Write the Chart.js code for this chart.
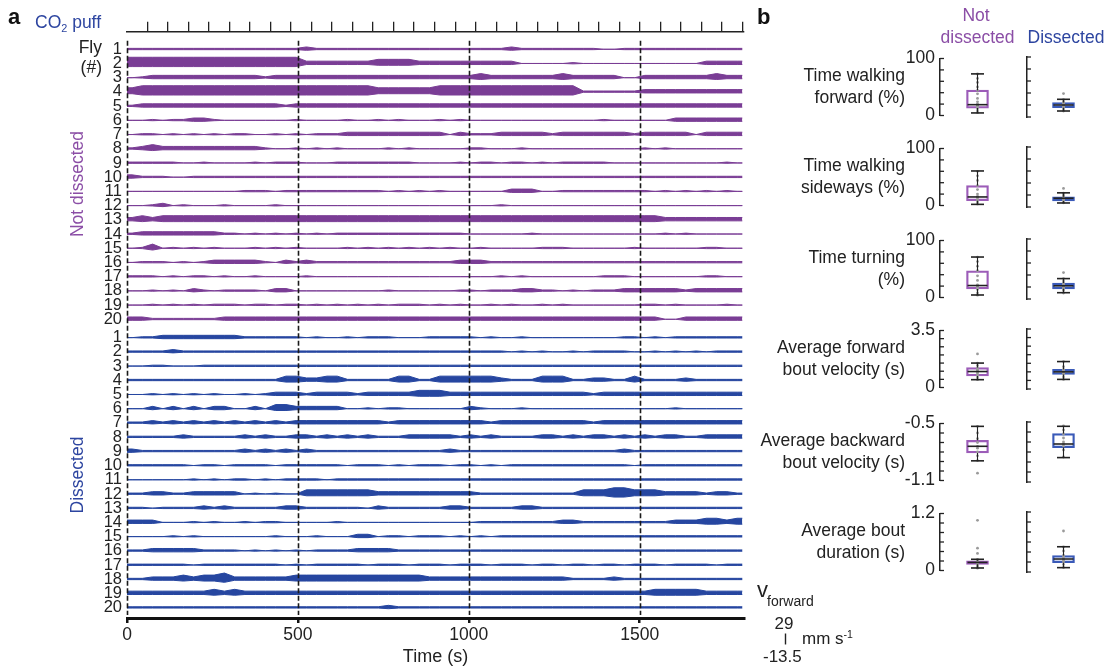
<!DOCTYPE html>
<html>
<head>
<meta charset="utf-8">
<script src="https://cdn.jsdelivr.net/npm/chart.js@4.4.1/dist/chart.umd.min.js"></script>
<style>
    body {
        margin: 0;
        width: 1116px;
        height: 668px;
        overflow: hidden;
        position: relative;
        background: #fff;
        font-family: "Liberation Sans", Arial, sans-serif;
        color: #222;
    }
    canvas { position: absolute; }
    .t {
        position: absolute;
        white-space: nowrap;
        line-height: 1;
    }
    .t sub { font-size: 0.62em; vertical-align: -0.3em; line-height: 0; }
    .t sup { font-size: 0.62em; vertical-align: 0.55em; line-height: 0; }
</style>
</head>
<body>
<script>

// TIME AXIS (s)
const timeTicks = [0, 500, 1000, 1500];
const puffTimes = [60, 120, 180, 240, 300, 360, 420, 480, 540, 600,
    660, 720, 780, 840, 900, 960, 1020, 1080, 1140, 1200,
    1260, 1320, 1380, 1440, 1500, 1560, 1620, 1680, 1740, 1800];
const markTimes = [0, 500, 1000, 1500];
const binSeconds = 30;

// FORWARD VELOCITY ACTIVITY PER 30 s BIN (0 = still ... 4 = very active)
const notDissectedActivity = [
    "1111111111 1111111211 1111111111 1111111211 1111110011 1111111111",
    "4444444444 4444444222 2222333322 2222222200 0001000000 0000002222",
    "0122222222 2221222222 2222222222 2222322222 2232222200 2222222322",
    "3444444444 4444444444 4444333333 4444444444 4444111111 2222222222",
    "1222222222 2222212222 2222222222 2222222222 2222222222 2222222222",
    "0010112210 0000001000 0100101000 1010000000 0000001000 0002222222",
    "0110101010 1100101011 1222222222 2021112222 2122222221 2222202222",
    "1232222222 2221001010 1000010100 0001100010 0000000000 1010000000",
    "1111100100 0010111000 1111111100 0010110110 1011111000 0000000010",
    "2111001111 1111111111 1111111111 1111111111 1111111111 1111111111",
    "0000000000 0111011111 1111101010 1000000222 0011111111 1010101010",
    "0012010001 0000100000 0000000000 0000001000 0000000000 0000000000",
    "2323333333 3333333333 3333333333 3333333333 3333333333 3322222222",
    "1222222221 1010101010 1111111111 1110000001 0000000000 0010100000",
    "0130101010 0010101000 0101010101 0100100000 1110000001 0000001100",
    "0111010122 2221021211 1111111111 1122211111 1111111111 1111111111",
    "1110101101 0010000100 0000000000 0000001010 0000001110 0000001100",
    "0010102101 1110220000 0000010000 0011011122 1101011122 2222122222",
    "0010101011 1011011010 1010101110 1010010100 1010000000 1101000010",
    "2211111112 2222222222 2222222222 2222222222 2222222222 2200222222"
];

const dissectedActivity = [
    "0112222222 2111111010 0101110001 1111010010 0000000011 0101111111",
    "1111211111 1111111111 1111111111 1111111010 1001011110 0101010111",
    "0011000111 1111111111 1111111111 1111111111 1111111111 1111111111",
    "1111111111 1111133223 3111113311 3333332111 3331122113 1111211111",
    "0010101010 0101222122 2212222233 3222222222 2222212222 2222222222",
    "0020202022 0020332222 2001011000 0002100010 0000000000 0001000000",
    "1121212121 2121212222 2222212222 2222212222 2222212222 2222222222",
    "1111121111 1212112212 1212111222 2212121111 2212122121 2122112222",
    "2111111111 1212121211 1111111111 1211111111 1111111121 1111111111",
    "1111110110 1111011111 1011101011 1011010111 1111111110 1111111111",
    "0000001010 1101011110 1111111111 1111111111 1111111111 1111111111",
    "1122112222 2010100333 3333222222 2222111111 1111333443 3322221221",
    "1101111212 1111122111 1110211111 1221111122 1111111111 1111111111",
    "2220001010 0101100000 1000000000 0000111111 1122111111 1112223323",
    "0000101000 0000100010 0022011011 1010101111 1111111111 1111111111",
    "1122222111 1010101011 1122221111 1111111111 1111111111 1111111111",
    "1111110111 1111101011 1110111011 1011101110 1101101101 1101111011",
    "1122232334 2222223333 3333333332 2222222222 2221111211 1111111111",
    "2222222232 3222222222 2222222222 2222222222 2222222222 2333332222",
    "1111111111 1111111111 1111121111 1111111111 1111111111 1111111111"
];

// peak / dip velocity (mm/s) for each activity level
const levelPeak = [0, 3.5, 9, 16, 24];
const levelDip = [0, 1.5, 4, 7, 12];

// BOX PLOTS: [lower whisker, q1, median, q3, upper whisker]
const rowNames = [
    ["Time walking", "forward (%)"],
    ["Time walking", "sideways (%)"],
    ["Time turning", "(%)"],
    ["Average forward", "bout velocity (s)"],
    ["Average backward", "bout velocity (s)"],
    ["Average bout", "duration (s)"]
];
const rowTicks = [
    [0, 20, 40, 60, 80, 100],
    [0, 20, 40, 60, 80, 100],
    [0, 20, 40, 60, 80, 100],
    [0, 0.5, 1, 1.5, 2, 2.5, 3, 3.5],
    [-1.1, -1, -0.9, -0.8, -0.7, -0.6, -0.5],
    [0, 0.2, 0.4, 0.6, 0.8, 1, 1.2]
];
const notDissectedBoxes = [
    [4.5, 13, 19, 44.5, 73],
    [2, 8.4, 15, 35, 60.6],
    [4.4, 15, 21, 47, 71],
    [0.48, 0.71, 0.98, 1.23, 1.5],
    [-0.893, -0.81, -0.74, -0.676, -0.53],
    [0.053, 0.13, 0.17, 0.204, 0.236]
];
const dissectedBoxes = [
    [10, 15.5, 20, 24, 29.5],
    [6.7, 10, 14.6, 17, 23.6],
    [10.5, 17, 22, 26.7, 34],
    [0.56, 0.85, 1.0, 1.15, 1.6],
    [-0.856, -0.756, -0.72, -0.616, -0.543],
    [0.087, 0.185, 0.26, 0.33, 0.505]
];
const notDissectedFlies = [
    [73, 65, 58, 50, 44, 38, 30, 24, 20, 19, 18, 16, 14, 12, 8, 5],
    [60, 52, 44, 35, 28, 20, 16, 15, 13, 10, 8, 5, 2],
    [71, 63, 55, 47, 38, 30, 22, 21, 19, 16, 14, 8, 4],
    [1.5, 1.35, 1.2, 1.1, 1.0, 0.98, 0.9, 0.8, 0.72, 0.6, 0.48],
    [-0.53, -0.6, -0.66, -0.7, -0.74, -0.76, -0.8, -0.84, -0.89],
    [0.236, 0.21, 0.19, 0.17, 0.16, 0.14, 0.12, 0.09, 0.05]
];
const dissectedFlies = [
    [29, 26, 24, 23, 22, 21, 20, 20, 19, 18, 17, 16, 15, 12, 10],
    [23, 20, 18, 17, 16, 15, 14, 13, 12, 10, 8, 7],
    [34, 30, 27, 25, 23, 22, 21, 20, 18, 16, 14, 10],
    [1.6, 1.3, 1.15, 1.08, 1.0, 0.95, 0.9, 0.85, 0.7, 0.56],
    [-0.54, -0.58, -0.62, -0.66, -0.7, -0.72, -0.74, -0.78, -0.85],
    [0.5, 0.42, 0.33, 0.3, 0.26, 0.23, 0.2, 0.15, 0.09]
];
const notDissectedOutliers = [[], [], [], [2.06], [-1.023], [1.056, 0.47, 0.36]];
const dissectedOutliers = [[39], [31], [44], [], [], [0.82]];

// COLOURS
const purpleText = "#8b4ea6";
const purpleTrace = "#7a3d95";
const purpleBox = "#9c5cb8";
const blueText = "#2d45a0";
const blueTrace = "#2646a0";
const blueBox = "#3a5ab8";

// LAYOUT
const rowStep = 55;       // mm/s between trace baselines
const groupGap = 16;
const traceTop = 68;
const traceBottom = -2201;
const boxRowTops = [57, 147, 239, 329, 422, 512];

function addText(html, x, y, style, align, rotate) {

    const d = document.createElement("div");
    d.className = "t";
    d.innerHTML = html;
    d.style.left = x + "px";
    d.style.top = y + "px";

    const tx = align === "r" ? "-100%" : align === "c" ? "-50%" : "0";
    d.style.transform =
        "translate(" + tx + ", -50%)" + (rotate ? " rotate(-90deg)" : "");

    Object.assign(d.style, style || {});
    document.body.appendChild(d);
}

function addCanvas(left, top, width, height) {

    const c = document.createElement("canvas");
    c.width = width;
    c.height = height;
    c.style.left = left + "px";
    c.style.top = top + "px";
    document.body.appendChild(c);
    return c;
}

// TRACES
const traceDatasets = [];
const traceBases = [];
const traceLabels = [];

function addTrace(activity, base, color) {

    const levels = activity.replace(/ /g, "").split("").map(Number);

    const upper = [{ x: 0, y: base + levelPeak[levels[0]] }];
    const lower = [{ x: 0, y: base - levelDip[levels[0]] }];

    levels.forEach((l, k) => {
        const t = k * binSeconds + binSeconds / 2;
        upper.push({ x: t, y: base + levelPeak[l] });
        lower.push({ x: t, y: base - levelDip[l] });
    });

    const last = levels[levels.length - 1];
    upper.push({ x: levels.length * binSeconds, y: base + levelPeak[last] });
    lower.push({ x: levels.length * binSeconds, y: base - levelDip[last] });

    traceDatasets.push({
        data: upper,
        borderColor: color,
        backgroundColor: color,
        borderWidth: 1,
        pointRadius: 0,
        tension: 0,
        fill: "+1"
    });

    traceDatasets.push({
        data: lower,
        borderColor: color,
        borderWidth: 1,
        pointRadius: 0,
        tension: 0,
        fill: false
    });
}

notDissectedActivity.forEach((a, i) => {
    const base = -i * rowStep;
    addTrace(a, base, purpleTrace);
    traceBases.push(base);
    traceLabels.push(String(i + 1));
});

dissectedActivity.forEach((a, i) => {
    const base = -(20 * rowStep + groupGap) - i * rowStep;
    addTrace(a, base, blueTrace);
    traceBases.push(base);
    traceLabels.push(String(i + 1));
});

const traceExtras = {
    id: "traceExtras",
    afterDatasetsDraw(chart) {

        const { ctx, chartArea, scales } = chart;

        // dashed time marks
        ctx.save();
        ctx.strokeStyle = "#1a1a1a";
        ctx.lineWidth = 1.6;
        ctx.setLineDash([5, 2.5]);
        markTimes.forEach(t => {
            const px = Math.round(scales.x.getPixelForValue(t)) + 0.5;
            ctx.beginPath();
            ctx.moveTo(px, chartArea.top + 9);
            ctx.lineTo(px, chartArea.bottom - 3);
            ctx.stroke();
        });
        ctx.restore();

        // velocity scale bar (29 to -13.5 mm/s)
        const len =
            scales.y.getPixelForValue(-13.5) - scales.y.getPixelForValue(29);
        ctx.save();
        ctx.strokeStyle = "#222";
        ctx.lineWidth = 1.4;
        ctx.beginPath();
        ctx.moveTo(785.5, 633.5);
        ctx.lineTo(785.5, 633.5 + len);
        ctx.stroke();
        ctx.restore();
    }
};

new Chart(addCanvas(0, 0, 860, 668), {

    type: "line",

    data: { datasets: traceDatasets },

    options: {
        responsive: false,
        animation: false,
        events: [],
        layout: { padding: { left: 0, right: 116, top: 0, bottom: 0 } },
        plugins: {
            legend: { display: false },
            tooltip: { enabled: false }
        },
        scales: {
            x: {
                type: "linear",
                position: "bottom",
                min: 0,
                max: 1805,
                afterBuildTicks: s => {
                    s.ticks = timeTicks.map(v => ({ value: v }));
                },
                afterFit: s => { s.height = 50; },
                border: { display: true, color: "#111", width: 3 },
                grid: {
                    drawOnChartArea: false,
                    drawTicks: true,
                    tickLength: 5,
                    color: "#111",
                    lineWidth: 2.5
                },
                ticks: {
                    color: "#222",
                    font: { family: "Liberation Sans", size: 17.5 },
                    padding: 2,
                    maxRotation: 0,
                    callback: v => String(v)
                },
                title: {
                    display: true,
                    text: "Time (s)",
                    color: "#222",
                    font: { family: "Liberation Sans", size: 18 },
                    padding: { top: 2, bottom: 0 }
                }
            },
            x2: {
                type: "linear",
                position: "top",
                min: 0,
                max: 1805,
                afterBuildTicks: s => {
                    s.ticks = puffTimes.map(v => ({ value: v }));
                },
                afterFit: s => { s.height = 31.7; },
                border: { display: true, color: "#222", width: 1.5 },
                grid: {
                    drawOnChartArea: false,
                    drawTicks: true,
                    tickLength: 10,
                    color: "#222",
                    lineWidth: 1.3
                },
                ticks: { display: false }
            },
            y: {
                type: "linear",
                min: traceBottom,
                max: traceTop,
                afterBuildTicks: s => {
                    s.ticks = traceBases.map(v => ({ value: v }));
                },
                afterFit: s => { s.width = 127; },
                border: { display: false },
                grid: { display: false, drawTicks: false },
                ticks: {
                    autoSkip: false,
                    color: "#222",
                    font: { family: "Liberation Sans", size: 16.5 },
                    padding: 5,
                    callback: (v, i) => traceLabels[i]
                }
            }
        }
    },

    plugins: [traceExtras]
});

// BOX PLOTS
const boxParts = {
    id: "boxParts",
    afterDatasetsDraw(chart, args, opts) {

        const { ctx, chartArea, scales: { x, y } } = chart;
        const st = opts.stats;
        const cx = x.getPixelForValue(0);

        ctx.save();
        ctx.strokeStyle = "#222";

        // inward ticks
        ctx.lineWidth = 1.3;
        y.ticks.forEach(t => {
            const py = y.getPixelForValue(t.value);
            ctx.beginPath();
            ctx.moveTo(chartArea.left, py);
            ctx.lineTo(chartArea.left + 4, py);
            ctx.stroke();
        });

        // whiskers
        ctx.lineWidth = 1.1;
        ctx.beginPath();
        ctx.moveTo(cx, y.getPixelForValue(st[3]));
        ctx.lineTo(cx, y.getPixelForValue(st[4]));
        ctx.moveTo(cx, y.getPixelForValue(st[1]));
        ctx.lineTo(cx, y.getPixelForValue(st[0]));
        ctx.stroke();

        // caps
        ctx.lineWidth = 1.6;
        [st[0], st[4]].forEach(v => {
            const py = y.getPixelForValue(v);
            ctx.beginPath();
            ctx.moveTo(cx - 6.5, py);
            ctx.lineTo(cx + 6.5, py);
            ctx.stroke();
        });

        // median
        const pm = y.getPixelForValue(st[2]);
        ctx.beginPath();
        ctx.moveTo(cx - 10, pm);
        ctx.lineTo(cx + 10, pm);
        ctx.stroke();

        ctx.restore();
    }
};

function makeBox(row, left, width, axisWidth, stats, flies, outliers, color, showLabels) {

    const ticks = rowTicks[row];

    const canvas =
        addCanvas(left, boxRowTops[row] - 14, width, 88);

    new Chart(canvas, {

        type: "bar",

        data: {
            labels: ["g"],
            datasets: [
                {
                    type: "bar",
                    data: [[stats[1], stats[3]]],
                    backgroundColor: "rgba(255,255,255,0)",
                    borderColor: color,
                    borderWidth: 1.6,
                    borderSkipped: false,
                    barThickness: 22,
                    order: 2
                },
                {
                    type: "scatter",
                    data: flies.concat(outliers).map(v => ({ x: "g", y: v })),
                    pointRadius: 1.4,
                    pointBackgroundColor: "#9a9a9a",
                    pointBorderWidth: 0,
                    order: 1
                }
            ]
        },

        options: {
            responsive: false,
            animation: false,
            events: [],
            layout: { padding: { top: 14, bottom: 14, left: 0, right: 0 } },
            plugins: {
                legend: { display: false },
                tooltip: { enabled: false },
                boxParts: { stats: stats }
            },
            scales: {
                x: { display: false },
                y: {
                    min: ticks[0],
                    max: ticks[ticks.length - 1],
                    afterBuildTicks: s => {
                        s.ticks = ticks.map(v => ({ value: v }));
                    },
                    afterFit: s => { s.width = axisWidth; },
                    border: { display: true, color: "#222", width: 1.5 },
                    grid: { display: false, drawTicks: false },
                    ticks: {
                        display: showLabels,
                        autoSkip: false,
                        color: "#222",
                        font: { family: "Liberation Sans", size: 17.5 },
                        padding: 5,
                        callback: (v, i) =>
                            (i === 0 || i === ticks.length - 1) ? String(v) : ""
                    }
                }
            }
        },

        plugins: [boxParts]
    });
}

rowNames.forEach((names, row) => {

    makeBox(row, 890, 129, 50,
        notDissectedBoxes[row], notDissectedFlies[row],
        notDissectedOutliers[row], purpleBox, true);

    makeBox(row, 1010, 94, 17,
        dissectedBoxes[row], dissectedFlies[row],
        dissectedOutliers[row], blueBox, false);

    const top = boxRowTops[row];
    addText(names[0], 905, top + 18.5, { fontSize: "17.5px" }, "r");
    addText(names[1], 905, top + 41, { fontSize: "17.5px" }, "r");
});

// TEXTS PANEL A
addText("a", 8, 17, { fontSize: "22px", fontWeight: "bold", color: "#111" }, "l");
addText("CO<sub>2</sub> puff", 35, 23, { fontSize: "17.5px", color: blueText }, "l");
addText("Fly", 102, 47.5, { fontSize: "17.5px" }, "r");
addText("(#)", 102, 68, { fontSize: "17.5px" }, "r");
addText("Not dissected", 77.5, 184, { fontSize: "17.5px", color: purpleText }, "c", true);
addText("Dissected", 77.5, 475, { fontSize: "17.5px", color: blueText }, "c", true);

// TEXTS PANEL B
addText("b", 757, 17, { fontSize: "22px", fontWeight: "bold", color: "#111" }, "l");
addText("Not", 976, 16, { fontSize: "17.5px", color: purpleText }, "c");
addText("dissected", 977.5, 38, { fontSize: "17.5px", color: purpleText }, "c");
addText("Dissected", 1066, 38, { fontSize: "17.5px", color: blueText }, "c");

// SCALE BAR TEXT
addText("v", 757, 590, { fontSize: "22px" }, "l");
addText("forward", 767, 601, { fontSize: "14px" }, "l");
addText("29", 784, 622.5, { fontSize: "17px" }, "c");
addText("mm s<sup>-1</sup>", 802, 638, { fontSize: "17px" }, "l");
addText("-13.5", 763, 656, { fontSize: "17px" }, "l");

</script>
</body>
</html>
